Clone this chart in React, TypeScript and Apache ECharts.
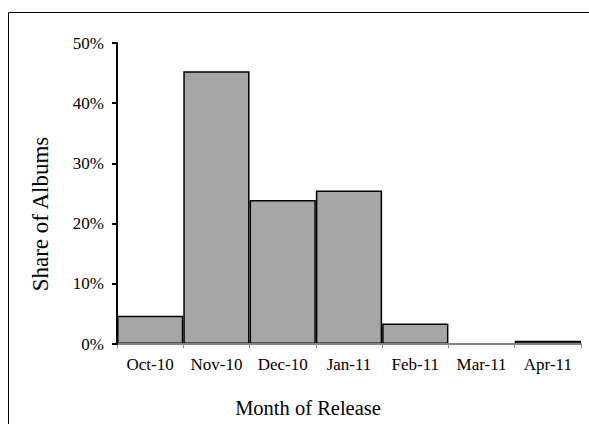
import React, { useEffect, useRef } from "react";
import * as echarts from "echarts";

const categories = ["Oct-10", "Nov-10", "Dec-10", "Jan-11", "Feb-11", "Mar-11", "Apr-11"];
const shares = [4.7, 45.3, 23.9, 25.5, 3.4, 0, 0.55];
const yTicks = [0, 10, 20, 30, 40, 50];

const FONT = "'Liberation Serif', 'Times New Roman', serif";

export default function App() {
  const ref = useRef<HTMLDivElement>(null);
  useEffect(() => {
    if (!ref.current) return;
    const chart = echarts.init(ref.current, undefined, { renderer: "svg" });
    chart.setOption({
      animation: false,
      backgroundColor: "#ffffff",
      grid: { left: 117, right: 8, top: 43, bottom: 80 },
      xAxis: {
        type: "category",
        data: categories,
        axisLine: { show: true, onZero: false, lineStyle: { color: "#808080", width: 2 } },
        axisTick: { show: true, alignWithLabel: false, interval: 0, length: 4, lineStyle: { color: "#8c8c8c", width: 1 } },
        axisLabel: { color: "#000", fontFamily: FONT, fontSize: 17, margin: 12, interval: 0, hideOverlap: false },
        z: 10,
      },
      yAxis: {
        type: "value",
        min: yTicks[0],
        max: yTicks[yTicks.length - 1],
        interval: 10,
        splitLine: { show: false },
        axisLine: { show: true, lineStyle: { color: "#000", width: 2 } },
        axisTick: { show: true, length: 5, lineStyle: { color: "#000", width: 2 } },
        axisLabel: {
          color: "#000",
          fontFamily: FONT,
          fontSize: 17,
          margin: 13,
          formatter: (v: number) => `${v}%`,
        },
        z: 11,
      },
      series: [
        {
          type: "bar",
          data: shares.map((v) => (v === 0 ? { value: v, itemStyle: { borderWidth: 0 } } : v)),
          barWidth: "100%",
          barCategoryGap: "0%",
          itemStyle: { color: "#a6a6a6", borderColor: "#000", borderWidth: 1.5 },
          markLine: {
            silent: true,
            symbol: ["none", "none"],
            label: { show: false },
            lineStyle: { color: "#808080", width: 2, type: "solid" },
            data: [{ yAxis: 0 }],
          },
        },
      ],
      graphic: [
        {
          type: "rect",
          shape: { x: 8.5, y: 12.5, width: 700, height: 600 },
          style: { fill: "none", stroke: "#000", lineWidth: 1 },
          silent: true,
          z: 100,
        },
        {
          type: "text",
          x: 308,
          y: 408,
          style: {
            text: "Month of Release",
            font: `20.5px ${FONT}`,
            fill: "#000",
            textAlign: "center",
            textVerticalAlign: "middle",
          },
        },
        {
          type: "text",
          x: 40,
          y: 214,
          rotation: Math.PI / 2,
          style: {
            text: "Share of Albums",
            font: `23px ${FONT}`,
            fill: "#000",
            textAlign: "center",
            textVerticalAlign: "middle",
          },
        },
      ],
    });
    return () => chart.dispose();
  }, []);
  return <div ref={ref} style={{ width: 589, height: 424, position: "absolute", left: 0, top: 0 }} />;
}
